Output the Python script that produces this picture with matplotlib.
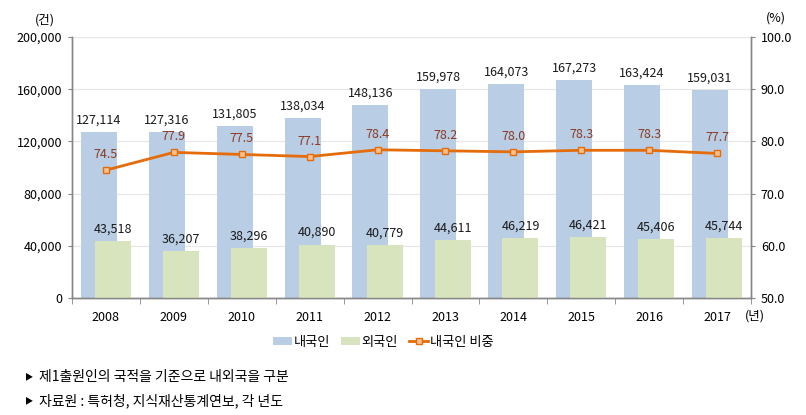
import numpy as np
import matplotlib.pyplot as plt

plt.rcParams['font.family'] = ['Noto Sans CJK KR', 'DejaVu Sans']

years = ['2008', '2009', '2010', '2011', '2012', '2013', '2014', '2015', '2016', '2017']
domestic = [127114, 127316, 131805, 138034, 148136, 159978, 164073, 167273, 163424, 159031]
foreign = [43518, 36207, 38296, 40890, 40779, 44611, 46219, 46421, 45406, 45744]
share = [74.5, 77.9, 77.5, 77.1, 78.4, 78.2, 78.0, 78.3, 78.3, 77.7]

c_dom = '#B9CDE5'
c_for = '#D7E4BD'
c_line = '#E46C0A'
c_axis = '#868686'

fig = plt.figure(figsize=(8.06, 4.15), dpi=100)
ax = fig.add_axes([0.0893, 0.2819, 0.8425, 0.6289])
ax2 = ax.twinx()

x = np.arange(len(years))
w = 0.53
off = 0.105
ax.bar(x - off, domestic, width=w, color=c_dom, zorder=2, label='내국인')
ax.bar(x + off, foreign, width=w, color=c_for, zorder=3, label='외국인')

for xi, v in zip(x, domestic):
    ax.annotate(f'{v:,}', (xi - off, v), xytext=(0, 4), textcoords='offset points',
                ha='center', va='bottom', fontsize=9, color='#1a1a1a')
for xi, v in zip(x, foreign):
    ax.annotate(f'{v:,}', (xi + off, v), xytext=(0, 4), textcoords='offset points',
                ha='center', va='bottom', fontsize=9, color='#1a1a1a')

ax2.plot(x, share, '-s', color=c_line, lw=2.0, ms=5, mfc='#FAC090', mec=c_line,
         mew=1.0, zorder=5, label='내국인 비중')
for xi, v in zip(x, share):
    ax2.annotate(f'{v:.1f}', (xi, v), xytext=(0, 6.5), textcoords='offset points',
                 ha='center', va='bottom', fontsize=9, color='#8B3A22')

ax.set_xlim(-0.5, 9.5)
ax.set_ylim(0, 200000)
ax.set_yticks(np.arange(0, 200001, 40000))
ax.set_yticklabels([f'{v:,}' for v in range(0, 200001, 40000)])
ax2.set_ylim(50, 100)
ax2.set_yticks(np.arange(50, 101, 10))
ax2.set_yticklabels([f'{v:.1f}' for v in np.arange(50, 101, 10)])

ax.set_xticks(x)
ax.set_xticklabels(years)
ax.set_xticks(np.arange(-0.5, 10, 1), minor=True)
ax.tick_params(axis='x', which='major', length=0, pad=9, labelsize=9)
ax.tick_params(axis='x', which='minor', length=4, color=c_axis, direction='out')
ax.tick_params(axis='y', length=3, color=c_axis, pad=4, labelsize=9)
ax2.tick_params(axis='y', length=3, color=c_axis, pad=4, labelsize=9)

ax.grid(axis='y', color='#E6E6E6', lw=0.8, zorder=0)
ax.set_axisbelow(True)
for a in (ax, ax2):
    a.spines['top'].set_visible(False)
    for s in ('left', 'right', 'bottom'):
        a.spines[s].set_color(c_axis)
        a.spines[s].set_linewidth(1.0)

fig.text(45 / 806, 1 - 20 / 415, '(건)', ha='center', va='center', fontsize=9)
fig.text(776 / 806, 1 - 18 / 415, '(%)', ha='center', va='center', fontsize=9)
fig.text(755 / 806, 1 - 316 / 415, '(년)', ha='center', va='center', fontsize=9)

h1, l1 = ax.get_legend_handles_labels()
h2, l2 = ax2.get_legend_handles_labels()
fig.legend(h1 + h2, l1 + l2, loc='center', bbox_to_anchor=(383 / 806, 1 - 342 / 415),
           ncol=3, frameon=False, fontsize=9.5, handlelength=1.5, handleheight=0.6,
           handletextpad=0.1, columnspacing=0.8)

notes = ['제1출원인의 국적을 기준으로 내외국을 구분', '자료원 : 특허청, 지식재산통계연보, 각 년도']
for i, t in enumerate(notes):
    yy = 1 - (377 + 24 * i) / 415
    fig.text(29 / 806, yy, '▶', ha='center', va='center', fontsize=6)
    fig.text(39 / 806, yy, t, ha='left', va='center', fontsize=10)

fig.savefig('out.png', dpi=100)
